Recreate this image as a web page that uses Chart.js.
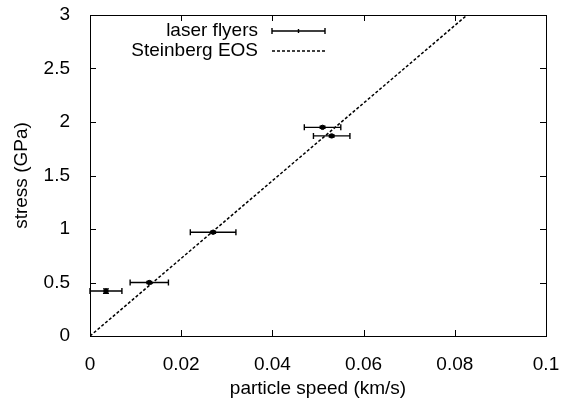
<!DOCTYPE html>
<html>
<head>
<meta charset="utf-8">
<script src="https://cdn.jsdelivr.net/npm/chart.js@4.4.1/dist/chart.umd.min.js"></script>
<style>
  html, body { margin: 0; padding: 0; background: #fff; }
  #wrap { width: 561px; height: 403px; }
</style>
</head>
<body>
<div id="wrap"><canvas id="chart" width="561" height="403"></canvas></div>
<script>
// laser flyer measurements
const speed = [0.0035, 0.013, 0.027, 0.051, 0.053];
const speedErr = [0.0035, 0.0042, 0.005, 0.004, 0.004];
const stress = [0.42, 0.5, 0.97, 1.95, 1.87];
const stressErr = [0.02, 0.01, 0.01, 0.01, 0.01];

// Steinberg EOS curve
const eosSpeed = [0, 0.0827];
const eosStress = [0, 3];

const xTicks = [0, 0.02, 0.04, 0.06, 0.08, 0.1];
const yTicks = [0, 0.5, 1, 1.5, 2, 2.5, 3];

const FONT = 'Liberation Sans, Arial, sans-serif';
const FSIZE = 19;

// frame with inward ticks on all four sides, gnuplot style
const framePlugin = {
  id: 'frame',
  afterDatasetsDraw(chart) {
    const { ctx, chartArea: a, scales } = chart;
    const tl = 6;
    ctx.save();
    ctx.strokeStyle = '#000';
    ctx.lineWidth = 1;
    ctx.beginPath();
    xTicks.forEach(v => {
      const px = Math.round(scales.x.getPixelForValue(v)) + 0.5;
      ctx.moveTo(px, a.bottom); ctx.lineTo(px, a.bottom - tl);
      ctx.moveTo(px, a.top); ctx.lineTo(px, a.top + tl);
    });
    yTicks.forEach(v => {
      const py = Math.round(scales.y.getPixelForValue(v)) + 0.5;
      ctx.moveTo(a.left, py); ctx.lineTo(a.left + tl, py);
      ctx.moveTo(a.right, py); ctx.lineTo(a.right - tl, py);
    });
    ctx.stroke();
    ctx.strokeRect(Math.round(a.left) + 0.5, Math.round(a.top) + 0.5,
      Math.round(a.right - a.left), Math.round(a.bottom - a.top));
    ctx.restore();
  }
};

// error bars for the measurements
const errorBarPlugin = {
  id: 'errorBars',
  afterDatasetsDraw(chart) {
    const { ctx, scales } = chart;
    const cap = 3;
    ctx.save();
    ctx.strokeStyle = '#000';
    ctx.lineWidth = 1.4;
    speed.forEach((s, i) => {
      const x0 = scales.x.getPixelForValue(s - speedErr[i]);
      const x1 = scales.x.getPixelForValue(s + speedErr[i]);
      const xc = scales.x.getPixelForValue(s);
      const y = scales.y.getPixelForValue(stress[i]);
      const y0 = scales.y.getPixelForValue(stress[i] - stressErr[i]);
      const y1 = scales.y.getPixelForValue(stress[i] + stressErr[i]);
      ctx.beginPath();
      ctx.moveTo(x0, y); ctx.lineTo(x1, y);
      ctx.moveTo(x0, y - cap); ctx.lineTo(x0, y + cap);
      ctx.moveTo(x1, y - cap); ctx.lineTo(x1, y + cap);
      ctx.moveTo(xc, y0); ctx.lineTo(xc, y1);
      ctx.moveTo(xc - cap, y0); ctx.lineTo(xc + cap, y0);
      ctx.moveTo(xc - cap, y1); ctx.lineTo(xc + cap, y1);
      ctx.stroke();
    });
    ctx.restore();
  }
};

// key in the upper left, text right-aligned with samples after it
const keyPlugin = {
  id: 'key',
  afterDraw(chart) {
    const { ctx } = chart;
    const textRight = 258, s0 = 272, s1 = 325;
    const rows = [31, 51];
    ctx.save();
    ctx.fillStyle = '#000';
    ctx.strokeStyle = '#000';
    ctx.font = FSIZE + 'px ' + FONT;
    ctx.textAlign = 'right';
    ctx.textBaseline = 'middle';
    ctx.fillText('laser flyers', textRight, rows[0]);
    ctx.fillText('Steinberg EOS', textRight, rows[1]);
    ctx.lineWidth = 1.4;
    ctx.beginPath();
    ctx.moveTo(s0, rows[0]); ctx.lineTo(s1, rows[0]);
    ctx.moveTo(s0, rows[0] - 3); ctx.lineTo(s0, rows[0] + 3);
    ctx.moveTo(s1, rows[0] - 3); ctx.lineTo(s1, rows[0] + 3);
    const m = (s0 + s1) / 2;
    ctx.moveTo(m, rows[0] - 2); ctx.lineTo(m, rows[0] + 2);
    ctx.stroke();
    ctx.setLineDash([3, 2]);
    ctx.lineWidth = 1.5;
    ctx.beginPath();
    ctx.moveTo(s0, rows[1]); ctx.lineTo(s1, rows[1]);
    ctx.stroke();
    ctx.restore();
  }
};

const fmt = v => String(Math.round(v * 1000) / 1000);

new Chart(document.getElementById('chart').getContext('2d'), {
  type: 'scatter',
  data: {
    datasets: [
      {
        label: 'Steinberg EOS',
        data: eosSpeed.map((s, i) => ({ x: s, y: eosStress[i] })),
        showLine: true,
        borderColor: '#000',
        borderWidth: 1.5,
        borderDash: [3, 2],
        pointRadius: 0,
        fill: false,
      },
      {
        label: 'laser flyers',
        data: speed.map((s, i) => ({ x: s, y: stress[i] })),
        backgroundColor: '#000',
        borderColor: '#000',
        pointRadius: 2.2,
        pointStyle: 'circle',
      }
    ]
  },
  options: {
    responsive: false,
    animation: false,
    layout: { padding: { top: 15, right: 15, left: 0, bottom: 0 } },
    plugins: {
      legend: { display: false },
      tooltip: { enabled: false },
    },
    scales: {
      x: {
        type: 'linear',
        min: 0,
        max: 0.1,
        afterBuildTicks: axis => { axis.ticks = xTicks.map(v => ({ value: v })); },
        afterFit: axis => { axis.height = 67; axis.paddingLeft = 0; axis.paddingRight = 0; },
        grid: { display: false },
        border: { display: false },
        ticks: { color: '#000', font: { family: FONT, size: FSIZE }, padding: 9, callback: fmt, maxRotation: 0 },
        title: { display: true, text: 'particle speed (km/s)', color: '#000', font: { family: FONT, size: FSIZE }, padding: { top: 4, bottom: 3 } },
      },
      y: {
        type: 'linear',
        min: 0,
        max: 3,
        afterBuildTicks: axis => { axis.ticks = yTicks.map(v => ({ value: v })); },
        afterFit: axis => { axis.width = 90; axis.paddingTop = 0; axis.paddingBottom = 0; },
        grid: { display: false },
        border: { display: false },
        ticks: { color: '#000', font: { family: FONT, size: FSIZE }, padding: 12, callback: fmt },
        title: { display: true, text: 'stress (GPa)', color: '#000', font: { family: FONT, size: FSIZE }, padding: { top: 10, bottom: 4 } },
      }
    }
  },
  plugins: [framePlugin, errorBarPlugin, keyPlugin]
});
</script>
</body>
</html>
